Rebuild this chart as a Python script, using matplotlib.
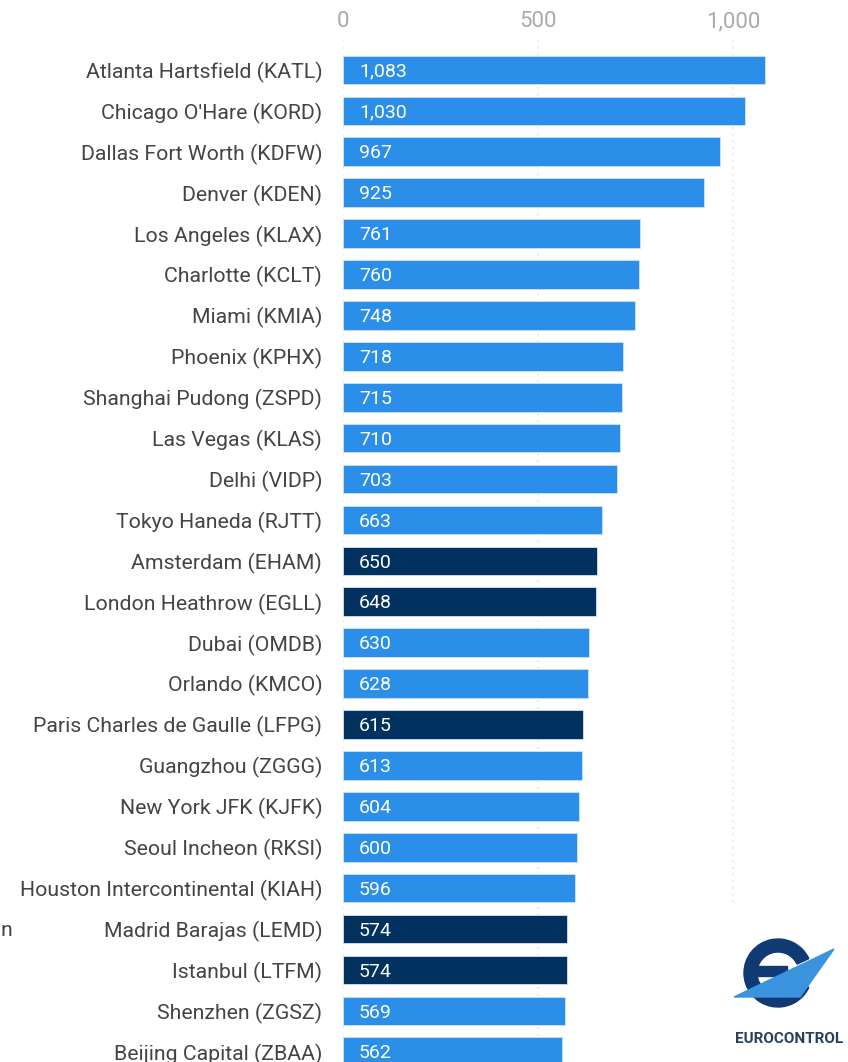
import matplotlib
matplotlib.use("Agg")
import matplotlib.pyplot as plt
from matplotlib.patches import Wedge, Polygon, Rectangle
from matplotlib.ticker import FuncFormatter

plt.rcParams['font.family'] = ['Roboto', 'DejaVu Sans']

airports = [
    "Atlanta Hartsfield (KATL)", "Chicago O'Hare (KORD)", "Dallas Fort Worth (KDFW)",
    "Denver (KDEN)", "Los Angeles (KLAX)", "Charlotte (KCLT)", "Miami (KMIA)",
    "Phoenix (KPHX)", "Shanghai Pudong (ZSPD)", "Las Vegas (KLAS)", "Delhi (VIDP)",
    "Tokyo Haneda (RJTT)", "Amsterdam (EHAM)", "London Heathrow (EGLL)", "Dubai (OMDB)",
    "Orlando (KMCO)", "Paris Charles de Gaulle (LFPG)", "Guangzhou (ZGGG)",
    "New York JFK (KJFK)", "Seoul Incheon (RKSI)", "Houston Intercontinental (KIAH)",
    "Madrid Barajas (LEMD)", "Istanbul (LTFM)", "Shenzhen (ZGSZ)", "Beijing Capital (ZBAA)",
]
values = [1083, 1030, 967, 925, 761, 760, 748, 718, 715, 710, 703, 663, 650, 648, 630,
          628, 615, 613, 604, 600, 596, 574, 574, 569, 562]
european = ["EHAM", "EGLL", "LFPG", "LEMD", "LTFM"]
xticks = [0, 500, 1000]

BLUE = "#2b8fe9"
NAVY = "#01325f"
colors = [NAVY if any(code in a for code in european) else BLUE for a in airports]

W, H = 848, 1062
fig = plt.figure(figsize=(W / 100, H / 100), dpi=100)
ax_left, ax_right, ax_top = 343, 772, 40
ax = fig.add_axes([ax_left / W, 0, (ax_right - ax_left) / W, 1 - ax_top / H])

y = list(range(len(airports)))
ax.barh(y, values, height=0.7, color=colors, edgecolor="#cfe3f7", linewidth=0.6, zorder=2)
ax.set_xlim(0, 1100)
ax.set_ylim(24.25, -0.733)
ax.set_yticks(y)
ax.set_yticklabels(airports, fontsize=15.3, color="#444444")
ax.tick_params(axis='y', length=0, pad=15)
ax.xaxis.tick_top()
ax.set_xticks(xticks)
ax.xaxis.set_major_formatter(FuncFormatter(lambda v, p: f"{int(v):,}"))
ax.tick_params(axis='x', length=0, pad=5.5, labelsize=16, labelcolor="#aaaaaa")
for s in ax.spines.values():
    s.set_visible(False)
ax.grid(axis='x', color="#e4e4e4", linestyle=(0, (1, 3)), linewidth=1.2, zorder=0)

for yi, v in zip(y, values):
    ax.text(41, yi + 0.04, f"{v:,}", color="white", fontsize=14, va="center", ha="left", zorder=3)

fig.text(0 / W, 1 - 930 / H, "n", fontsize=15.3, color="#444444", va="center", ha="left")

# Logo
lx0, ly0 = 718, 905
lax = fig.add_axes([lx0 / W, 0, (W - lx0) / W, (H - ly0) / H])
lax.set_xlim(lx0, W)
lax.set_ylim(H, ly0)
lax.set_facecolor("white")
lax.axis("off")
lax.add_patch(Rectangle((lx0, ly0), W - lx0, H - ly0, color="white", zorder=0))
lax.add_patch(Wedge((778, 973), 34, 25, 335, width=13, color="#0f3a73", zorder=1))
lax.add_patch(Rectangle((757, 966), 30, 10, color="#0f3a73", zorder=1))
lax.add_patch(Polygon([(734, 997), (834, 949), (800, 997)], closed=True, color="#3a93dc", zorder=2))
lax.text(789, 1039, "EUROCONTROL", fontsize=11, fontweight="bold", color="#2a3f5f",
         ha="center", va="center")

fig.savefig("out.png", dpi=100, facecolor="white")
